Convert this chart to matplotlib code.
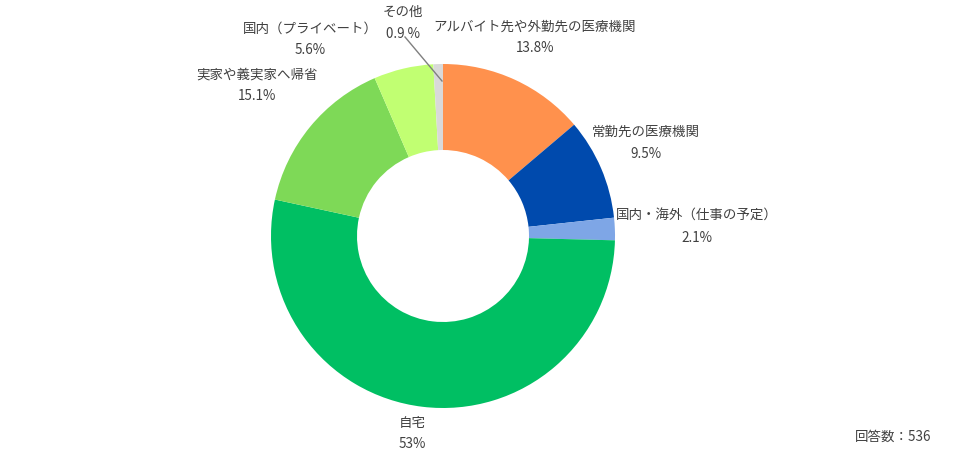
import matplotlib.pyplot as plt

plt.rcParams['font.family'] = ['Noto Sans CJK JP', 'DejaVu Sans']

# 時計回り、12時の位置から
labels = ['アルバイト先や外勤先の医療機関', '常勤先の医療機関', '国内・海外（仕事の予定）',
          '自宅', '実家や義実家へ帰省', '国内（プライベート）', 'その他']
values = [13.8, 9.5, 2.1, 53, 15.1, 5.6, 0.9]
pct_text = ['13.8%', '9.5%', '2.1%', '53%', '15.1%', '5.6%', '0.9 %']
colors = ['#FF914D', '#004AAD', '#7EA6E6', '#00BF63', '#7ED957', '#C1FF72', '#D9D9D9']

W, H = 976, 459
fig = plt.figure(figsize=(W / 100, H / 100), dpi=100)

cx, cy, r = 443, 236, 172
ax = fig.add_axes([(cx - r) / W, (H - cy - r) / H, 2 * r / W, 2 * r / H])
ax.pie(values, colors=colors, startangle=90, counterclock=False,
       radius=1, wedgeprops=dict(width=0.5, edgecolor='none'))
ax.set_xlim(-1, 1)
ax.set_ylim(-1, 1)
ax.set_aspect('equal')
ax.axis('off')

# ラベル位置（ピクセル）
label_pos = [(535, 27), (646, 132), (697, 216), (412, 423), (257, 75), (310, 29), (403, 12)]
txt_color = '#404040'
for lab, pct, (x, y) in zip(labels, pct_text, label_pos):
    fig.text(x / W, 1 - y / H, lab, ha='center', va='center', fontsize=9.7, color=txt_color)
    fig.text(x / W, 1 - (y + 21.5) / H, pct, ha='center', va='center', fontsize=9.7, color=txt_color)

# その他の引き出し線
fig.add_artist(plt.Line2D([405 / W, 442 / W], [1 - 37 / H, 1 - 81 / H],
                          color='#7f7f7f', linewidth=1))

fig.text(893 / W, 1 - 437 / H, '回答数：536', ha='center', va='center', fontsize=9.7, color=txt_color)

fig.savefig('out.png', dpi=100)
